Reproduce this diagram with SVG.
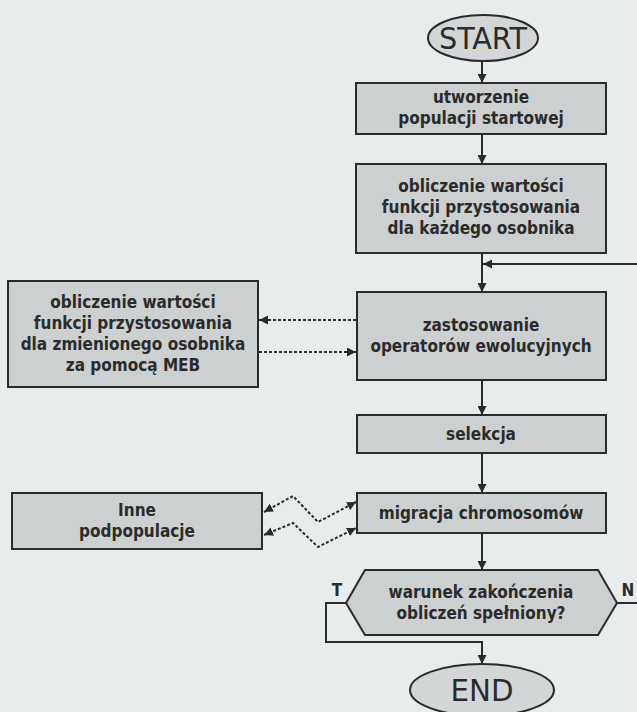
<svg xmlns="http://www.w3.org/2000/svg" width="637" height="712" viewBox="0 0 637 712">
<defs>
<style>
.bg{fill:#e8ecec}
.box{fill:#cdd0d0;stroke:#2b2b2b;stroke-width:2}
.term{fill:#d3d6d6;stroke:#2b2b2b;stroke-width:2}
.t{font-family:"DejaVu Sans Condensed","DejaVu Sans",sans-serif;font-stretch:condensed;font-weight:bold;font-size:17px;fill:#2b2b2b;text-anchor:middle}
.big{font-family:"DejaVu Sans Condensed","DejaVu Sans",sans-serif;font-stretch:condensed;font-size:31px;fill:#2b2b2b;text-anchor:middle}
.ln{fill:none;stroke:#2b2b2b;stroke-width:2}
.dash{fill:none;stroke:#2b2b2b;stroke-width:2;stroke-dasharray:3 2}
</style>
<marker id="ah" viewBox="0 0 10 10" refX="10" refY="5" markerWidth="9" markerHeight="9" markerUnits="userSpaceOnUse" orient="auto-start-reverse">
<path d="M0,0 L10,5 L0,10 z" fill="#2b2b2b"/>
</marker>
</defs>
<rect class="bg" x="0" y="0" width="637" height="712"/>

<g id="connectors">
<line class="ln" x1="482" y1="61" x2="482" y2="83" marker-end="url(#ah)"/>
<line class="ln" x1="482" y1="134" x2="482" y2="164" marker-end="url(#ah)"/>
<line class="ln" x1="482" y1="253" x2="482" y2="292" marker-end="url(#ah)"/>
<line class="ln" x1="637" y1="264" x2="483" y2="264" marker-end="url(#ah)"/>
<line class="ln" x1="482" y1="380" x2="482" y2="415" marker-end="url(#ah)"/>
<line class="ln" x1="482" y1="453" x2="482" y2="493" marker-end="url(#ah)"/>
<line class="ln" x1="482" y1="533" x2="482" y2="570" marker-end="url(#ah)"/>
<line class="dash" x1="356" y1="320" x2="259" y2="320" marker-end="url(#ah)"/>
<line class="dash" x1="259" y1="352" x2="356" y2="352" marker-end="url(#ah)"/>
<path class="dash" d="M264,512 L293,496 L318,522 L356,502" marker-start="url(#ah)" marker-end="url(#ah)"/>
<path class="dash" d="M264,535 L293,523 L318,547 L356,528" marker-start="url(#ah)" marker-end="url(#ah)"/>
<path class="ln" d="M346,603 L326,603 L326,642 L482,642 L482,664" marker-end="url(#ah)"/>
<line class="ln" x1="617" y1="603" x2="637" y2="603"/>
<text class="t" x="337" y="596">T</text>
<text class="t" x="628" y="596">N</text>
</g>

<g id="start">
<ellipse class="term" cx="483" cy="38" rx="55" ry="23"/>
<text class="big" x="483" y="49" textLength="88" lengthAdjust="spacingAndGlyphs">START</text>
</g>

<g id="init">
<rect class="box" x="356" y="83" width="250" height="51"/>
<text class="t" x="481" y="103">utworzenie</text>
<text class="t" x="481" y="124">populacji startowej</text>
</g>

<g id="fitness">
<rect class="box" x="356" y="164" width="250" height="89"/>
<text class="t" x="481" y="192">obliczenie wartości</text>
<text class="t" x="481" y="213">funkcji przystosowania</text>
<text class="t" x="481" y="234">dla każdego osobnika</text>
</g>

<g id="operators">
<rect class="box" x="357" y="292" width="249" height="88"/>
<text class="t" x="481" y="331">zastosowanie</text>
<text class="t" x="481" y="352">operatorów ewolucyjnych</text>
</g>

<g id="meb">
<rect class="box" x="8" y="281" width="250" height="106"/>
<text class="t" x="133" y="308">obliczenie wartości</text>
<text class="t" x="133" y="329">funkcji przystosowania</text>
<text class="t" x="133" y="350">dla zmienionego osobnika</text>
<text class="t" x="133" y="371">za pomocą MEB</text>
</g>

<g id="selection">
<rect class="box" x="357" y="415" width="249" height="38"/>
<text class="t" x="481" y="440">selekcja</text>
</g>

<g id="migration">
<rect class="box" x="357" y="493" width="249" height="40"/>
<text class="t" x="481" y="519">migracja chromosomów</text>
</g>

<g id="subpop">
<rect class="box" x="12" y="493" width="250" height="56"/>
<text class="t" x="137" y="516">Inne</text>
<text class="t" x="137" y="537">podpopulacje</text>
</g>

<g id="condition">
<polygon class="box" points="346,603 365,570 598,570 617,603 598,635 365,635"/>
<text class="t" x="481" y="598">warunek zakończenia</text>
<text class="t" x="481" y="619">obliczeń spełniony?</text>
</g>

<g id="end">
<ellipse class="term" cx="482" cy="690" rx="72" ry="26"/>
<text class="big" x="482" y="701" textLength="63" lengthAdjust="spacingAndGlyphs">END</text>
</g>
</svg>
